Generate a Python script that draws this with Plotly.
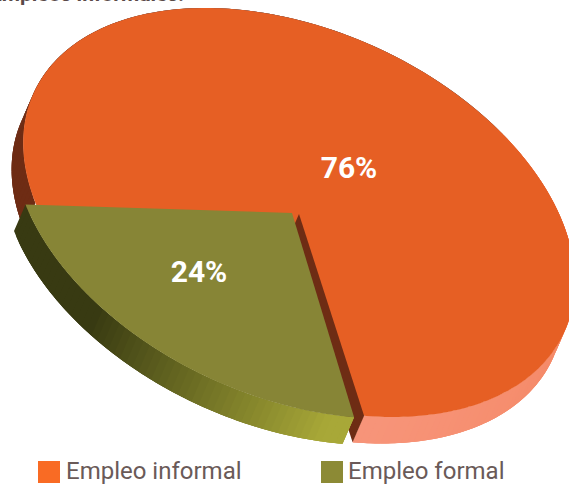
import numpy as np
import plotly.graph_objects as go

categories = ["Empleo informal", "Empleo formal"]
values = [76, 24]
slice_labels = ["76%", "24%"]
title_text = "Empleos informales."

W, H = 569, 484
CX, CY = 299, 212.5
A, B = 291, 182.3
TILT = np.radians(24.1)
DEPTH = np.array([-11.5, 26.5])
START = 60.7
OLIVE_SHIFT = (-10, 1.5)
OLIVE_TIP = (292, 213)
ORANGE, OLIVE = "#e65f24", "#878536"


def ell(t_deg, c=(CX, CY)):
    t = np.radians(np.asarray(t_deg, dtype=float))
    u, v = np.cos(t) * A, np.sin(t) * B
    return (c[0] + u * np.cos(TILT) - v * np.sin(TILT),
            c[1] + u * np.sin(TILT) + v * np.cos(TILT))


def mix(c1, c2, f):
    f = min(1.0, max(0.0, f))
    a = [int(c1[i:i + 2], 16) for i in (1, 3, 5)]
    b = [int(c2[i:i + 2], 16) for i in (1, 3, 5)]
    return "rgb(%d,%d,%d)" % tuple(a[i] + (b[i] - a[i]) * f for i in range(3))


fig = go.Figure()


def poly(xs, ys, color):
    fig.add_trace(go.Scatter(x=list(xs), y=list(ys), mode="none", fill="toself",
                             fillcolor=color, hoverinfo="skip", showlegend=False))


def wall(t0, t1, c, colorfn, step=1.5):
    """Side wall drawn as overlapping bands, painted in order so no seams show."""
    n = max(1, int(abs(t1 - t0) / step))
    edges = np.linspace(t0, t1, n + 1)
    for a, b in zip(edges[:-1], edges[1:]):
        end = min(t1, b + 2 * step) if t1 > t0 else max(t1, b - 2 * step)
        ts = np.linspace(a, end, 6)
        x, y = ell(ts, c)
        poly(np.r_[x, x[::-1] + DEPTH[0]], np.r_[y, y[::-1] + DEPTH[1]], colorfn((a + b) / 2))


olive_span = 360 * values[1] / sum(values)
oc = (CX + OLIVE_SHIFT[0], CY + OLIVE_SHIFT[1])


def orange_wall_color(t):
    t = (t + 360) % 360
    if 100 < t <= 300:
        return mix("#6e2c14", "#86584a", (t - 170) / 50)
    if t > 300:
        return mix("#e8693a", "#f58a68", (t - 335) / 25)
    return mix("#f58a68", "#f8957a", t / 60)


def olive_wall_color(t):
    return mix("#a8a838", "#383a12", (t - START - 5) / (118 - START - 5))


# orange side wall, full top ellipse beneath everything else
wall(START + olive_span, START + 360, (CX, CY), orange_wall_color)
x, y = ell(np.linspace(0, 360, 360))
poly(x, y, ORANGE)

# cut face of the orange slice
ex, ey = ell(START)
poly([CX, ex, ex + DEPTH[0], CX + DEPTH[0]],
     [CY + 1.5, ey, ey + DEPTH[1], CY + 1.5 + DEPTH[1]], "#6e2c14")

# olive side wall (painted from the left end to the bottom end)
wall(START + olive_span, START, oc, olive_wall_color)

# olive top face
x, y = ell(np.linspace(START, START + olive_span, 120), oc)
poly(np.r_[OLIVE_TIP[0], x, OLIVE_TIP[0]], np.r_[OLIVE_TIP[1], y, OLIVE_TIP[1]], OLIVE)

# slice labels
fig.add_trace(go.Scatter(x=[349, 199], y=[170, 274], mode="text", text=slice_labels,
                         textposition="middle center",
                         textfont=dict(family="Roboto", size=30, color="white", weight="bold"),
                         hoverinfo="skip", showlegend=False))

# legend
fig.add_trace(go.Scatter(x=[49, 332], y=[472, 472], mode="markers",
                         marker=dict(symbol="square", size=22, color=["#f96b24", "#8c8a35"]),
                         hoverinfo="skip", showlegend=False))
for lx, name in zip([64, 346], categories):
    fig.add_annotation(x=lx, y=471, text=name, showarrow=False, xanchor="left", yanchor="middle",
                       xref="x", yref="y",
                       font=dict(family="Roboto", size=24, color="#6a5a58"))

fig.add_annotation(x=186, y=8, text="<b>%s</b>" % title_text, showarrow=False, xanchor="right",
                   yanchor="bottom", xref="x", yref="y",
                   font=dict(family="Roboto", size=21, color="#5a4a48"))

fig.update_layout(width=W, height=H, margin=dict(l=0, r=0, t=0, b=0), autosize=False,
                  paper_bgcolor="white", plot_bgcolor="white", showlegend=False,
                  xaxis=dict(range=[0, W], visible=False, fixedrange=True),
                  yaxis=dict(range=[H, 0], visible=False, fixedrange=True))
fig.write_html("out.html", config=dict(displayModeBar=False),
               post_script="document.body.style.margin='0';document.documentElement.style.overflow='hidden';")
